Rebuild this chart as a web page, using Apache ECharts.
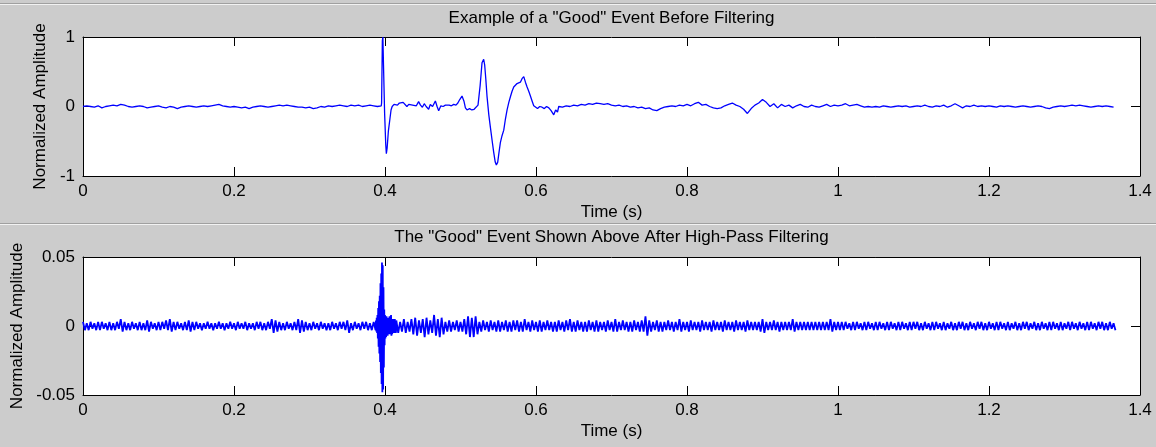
<!DOCTYPE html>
<html>
<head>
<meta charset="utf-8">
<title>Good event before / after high-pass</title>
<script src="https://cdn.jsdelivr.net/npm/echarts@6/dist/echarts.min.js"></script>
<style>
  html, body { margin: 0; padding: 0; background: #cccccc; }
  #myChart { width: 1156px; height: 447px; }
</style>
</head>
<body>
<div id="myChart"></div>
<script>
// tick values
var timeTicks = [0, 0.2, 0.4, 0.6, 0.8, 1, 1.2, 1.4]
var rawTicks = [-1, 0, 1]
var hpTicks = [-0.05, 0, 0.05]

// ---- top panel: raw (normalized) signal ----
// quiet part before the event, one reading every 5 ms from t = 0
var rawStep = 0.005
var rawPre = [
  0.00, 0.01, 0.00, -0.01, 0.01, -0.02, 0.00, 0.01, 0.02, 0.01,
  0.03, 0.02, 0.00, -0.01, 0.00, 0.01, 0.00, -0.02, -0.01, 0.00,
  0.01, -0.01, -0.02, 0.00, -0.01, -0.03, -0.01, 0.00, 0.01, 0.00,
  -0.01, 0.00, 0.01, 0.00, 0.01, 0.02, 0.03, 0.01, 0.00, -0.01,
  0.00, -0.01, -0.02, -0.01, -0.03, -0.01, 0.00, 0.01, 0.00, -0.01,
  0.00, 0.01, 0.02, 0.01, 0.02, 0.01, 0.00, -0.01, -0.01, -0.02,
  -0.01, -0.03, -0.02, 0.00, -0.01, 0.01, 0.00, 0.01, 0.02, 0.01,
  0.00, 0.02, 0.01, 0.02, 0.00, 0.01, 0.02, 0.01, 0.00, 0.01
]
// the event itself (irregular readings)
var rawEventT = [
  0.3955, 0.3965, 0.3972, 0.3980, 0.3995, 0.4010, 0.4018, 0.4028, 0.4045, 0.4065,
  0.4080, 0.4095, 0.4120, 0.4140, 0.4165, 0.4190, 0.4215, 0.4240, 0.4265, 0.4290,
  0.4315, 0.4340, 0.4365, 0.4390, 0.4415, 0.4445, 0.4470, 0.4495, 0.4520, 0.4545,
  0.4578, 0.4600, 0.4630, 0.4667, 0.4690, 0.4711, 0.4740, 0.4770, 0.4800, 0.4821,
  0.4850, 0.4880, 0.4910, 0.4940, 0.4965, 0.4990, 0.5020, 0.5045, 0.5065, 0.5086,
  0.5120, 0.5150, 0.5180, 0.5197, 0.5232, 0.5260, 0.5285, 0.5307, 0.5320, 0.5335,
  0.5351, 0.5375, 0.5396, 0.5420, 0.5440, 0.5460, 0.5475, 0.5493, 0.5510, 0.5528,
  0.5550, 0.5573, 0.5595, 0.5617, 0.5640, 0.5661, 0.5683, 0.5705, 0.5727, 0.5749,
  0.5771, 0.5793, 0.5815, 0.5838, 0.5860, 0.5882, 0.5904, 0.5926, 0.5948, 0.5970,
  0.5995, 0.6020, 0.6050, 0.6080, 0.6110, 0.6140, 0.6170, 0.6200, 0.6235, 0.6260,
  0.6285, 0.6301, 0.6320
]
var rawEventV = [
  0.05, 0.95, 1.00, 0.60, -0.10, -0.55, -0.68, -0.60, -0.35, -0.18,
  -0.05, 0.00, 0.03, 0.05, 0.02, 0.05, 0.03, 0.06, 0.04, 0.00,
  0.03, 0.05, 0.02, 0.04, 0.01, 0.07, 0.02, -0.01, 0.04, 0.00,
  -0.04, 0.03, 0.00, 0.08, 0.00, -0.06, 0.01, 0.00, 0.02, 0.00,
  0.02, 0.01, 0.03, 0.02, 0.05, 0.10, 0.15, 0.08, -0.02, -0.05,
  -0.03, -0.05, -0.04, -0.02, 0.02, 0.30, 0.63, 0.68, 0.60, 0.40,
  0.15, -0.12, -0.30, -0.50, -0.66, -0.80, -0.84, -0.80, -0.66, -0.52,
  -0.42, -0.34, -0.18, -0.05, 0.06, 0.14, 0.22, 0.28, 0.30, 0.33,
  0.32, 0.35, 0.40, 0.43, 0.35, 0.28, 0.22, 0.15, 0.08, 0.01,
  0.00, -0.03, 0.00, -0.01, -0.03, 0.00, -0.02, -0.06, -0.12, -0.05,
  -0.08, 0.00, -0.02
]
// coda after the event, every 5 ms from t = 0.635
var rawPostStart = 0.635
var rawPost = [
  -0.01, 0.01, 0.00, 0.02, 0.01, 0.03, 0.02, 0.04, 0.03, 0.05,
  0.04, 0.03, 0.04, 0.02, 0.01, 0.02, 0.00, 0.01, -0.01, 0.00,
  -0.02, -0.01, -0.03, -0.02, -0.05, -0.06, -0.03, -0.01, 0.00, 0.01,
  0.00, 0.02, 0.01, 0.03, 0.01, 0.04, 0.06, 0.02, 0.03, 0.00,
  -0.02, -0.03, -0.02, 0.01, 0.03, 0.05, 0.02, 0.00, -0.04, -0.10,
  -0.03, 0.02, 0.05, 0.10, 0.06, 0.00, 0.04, -0.02, 0.03, 0.00,
  0.02, -0.02, 0.01, 0.03, 0.00, -0.01, 0.02, 0.00, -0.01, 0.01,
  0.03, 0.00, 0.02, 0.01, 0.02, 0.04, 0.01, 0.02, 0.03, 0.01,
  -0.01, 0.00, -0.01, 0.00, -0.01, 0.01, 0.00, -0.01, 0.00, 0.01,
  0.00, 0.01, -0.01, 0.00, 0.01, 0.00, 0.02, 0.00, -0.01, 0.01,
  0.00, 0.02, -0.01, 0.01, 0.04, 0.01, -0.02, 0.01, 0.00, 0.02,
  0.00, 0.01, 0.00, 0.01, 0.00, -0.01, 0.01, 0.00, 0.01, 0.00,
  -0.01, 0.00, 0.01, 0.00, -0.01, 0.00, 0.01, 0.00, -0.02, -0.03,
  -0.01, 0.00, 0.01, 0.00, 0.01, 0.02, 0.01, 0.02, 0.01, 0.00,
  -0.01, 0.00, 0.01, 0.00, 0.01, 0.00, -0.01
]

// ---- bottom panel: high-pass filtered signal (units of 0.001) ----
// the trace is very dense, so it is kept as the top / bottom edge of the
// band in 5 ms bins; each bin is drawn as one up-down swing
var hpStep = 0.005
var hpUpperA = [
  3, 2, 3, 2, 3, 3, 2, 3, 2, 3,
  5, 3, 2, 3, 2, 3, 2, 4, 3, 2,
  3, 3, 4, 5, 3, 3, 2, 3, 4, 3,
  3, 2, 2, 3, 2, 2, 3, 2, 2, 3,
  2, 3, 2, 3, 2, 2, 3, 3, 2, 3,
  5, 4, 3, 2, 3, 2, 3, 5, 4, 3,
  2, 3, 2, 3, 2, 2, 3, 2, 3, 3,
  4, 2, 3, 2, 3, 3, 2, 3
]
var hpLowerA = [
  3, 3, 2, 3, 3, 2, 3, 3, 3, 2,
  4, 3, 3, 2, 3, 3, 3, 4, 2, 3,
  3, 2, 3, 4, 3, 2, 3, 3, 4, 3,
  2, 3, 2, 2, 3, 2, 2, 3, 2, 2,
  3, 2, 2, 3, 2, 3, 2, 3, 3, 2,
  5, 4, 3, 3, 2, 3, 3, 5, 4, 3,
  3, 2, 3, 2, 3, 3, 2, 3, 2, 3,
  5, 3, 2, 3, 2, 3, 3, 3
]
// the burst around 0.4 s, read sample by sample
var hpBurstT = [
  0.3880, 0.3885, 0.3890, 0.3895, 0.3900, 0.3905, 0.3910, 0.3915, 0.3920, 0.3925,
  0.3930, 0.3935, 0.3940, 0.3945, 0.3950, 0.3955, 0.3960, 0.3965, 0.3970, 0.3975,
  0.3980, 0.3985, 0.3990, 0.3995, 0.4000, 0.4005, 0.4010, 0.4015, 0.4020, 0.4025,
  0.4030, 0.4035, 0.4040, 0.4045, 0.4050, 0.4055, 0.4060, 0.4065, 0.4070, 0.4075,
  0.4080, 0.4085, 0.4090, 0.4095, 0.4100, 0.4105, 0.4110, 0.4115, 0.4120, 0.4125,
  0.4130, 0.4135, 0.4140, 0.4145
]
var hpBurstV = [
  4, -4, 6, -5, 8, -9, 13, -15, 18, -20,
  22, -26, 31, -34, 38, -42, 46, -48, 44, -46,
  28, -30, 12, -14, 8, -9, 6, -8, 7, -6,
  5, -7, 6, -5, 4, -6, 7, -5, 5, -6,
  8, -7, 5, -6, 4, -5, 5, -4, 4, -5,
  5, -4, 4, -5
]
var hpStartB = 0.415
var hpUpperB = [
  4, 3, 5, 3, 5, 6, 4, 5, 6, 4,
  8, 5, 6, 3, 4, 3, 4, 3, 5, 7,
  6, 7, 3, 4, 3, 4, 3, 4, 3, 4,
  3, 4, 4, 3, 5, 3, 4, 3, 4, 3,
  4, 3, 3, 4, 3, 4, 5, 3, 4, 3,
  3, 4, 3, 4, 3, 3, 4, 3, 5, 3,
  4, 3, 3, 4, 3, 4, 7, 4, 3, 4,
  3, 3, 4, 3, 3, 5, 3, 3, 4, 3,
  3, 4, 3, 3, 4, 3, 3, 4, 3, 3,
  4, 3, 3, 4, 3, 3, 3, 5, 3, 3,
  4, 3, 3, 3, 3, 5, 3, 3, 3, 3,
  3, 3, 3, 3, 3, 5, 3, 3, 3, 3,
  2, 3, 3, 2, 3, 3, 2, 3, 3, 2,
  3, 3, 2, 3, 3, 2, 3, 3, 3, 2,
  3, 2, 3, 3, 2, 3, 2, 3, 2, 3,
  3, 2, 3, 2, 3, 3, 2, 3, 2, 3,
  3, 2, 3, 2, 3, 2, 3, 3, 2, 3,
  2, 3, 2, 3, 3, 2, 3, 2, 3, 3,
  2, 3, 2, 3, 3, 2, 3, 3, 2, 3, 2
]
var hpLowerB = [
  5, 4, 5, 4, 6, 7, 5, 8, 6, 5,
  7, 8, 6, 4, 4, 3, 4, 4, 6, 8,
  8, 6, 4, 3, 4, 3, 4, 4, 3, 4,
  4, 3, 4, 4, 3, 4, 3, 4, 4, 3,
  3, 4, 4, 3, 4, 3, 4, 4, 3, 4,
  4, 3, 4, 4, 3, 4, 3, 4, 4, 3,
  3, 4, 4, 3, 4, 4, 7, 4, 3, 4,
  4, 3, 3, 4, 3, 4, 3, 4, 3, 3,
  4, 3, 3, 4, 3, 3, 4, 3, 3, 4,
  3, 3, 4, 3, 3, 3, 4, 5, 3, 3,
  3, 4, 3, 3, 3, 4, 3, 3, 3, 3,
  3, 3, 3, 3, 3, 4, 3, 3, 3, 2,
  3, 3, 2, 3, 3, 2, 3, 3, 2, 3,
  3, 2, 3, 3, 2, 3, 3, 2, 3, 3,
  2, 3, 3, 2, 3, 3, 2, 3, 3, 2,
  3, 3, 2, 3, 2, 3, 3, 2, 3, 3,
  2, 3, 3, 2, 3, 3, 2, 3, 2, 3,
  3, 2, 3, 3, 2, 3, 3, 2, 3, 2,
  3, 2, 3, 3, 2, 3, 2, 3, 3, 2, 3
]

// build [t, value] pairs
var rawData = []
rawPre.forEach(function (v, i) { rawData.push([i * rawStep, v]) })
rawEventT.forEach(function (t, i) { rawData.push([t, rawEventV[i]]) })
rawPost.forEach(function (v, i) { rawData.push([rawPostStart + i * rawStep, v]) })

var hpData = []
function pushBins(start, upper, lower) {
  upper.forEach(function (u, i) {
    var t = start + i * hpStep
    hpData.push([t, u / 1000])
    hpData.push([t + hpStep / 2, -lower[i] / 1000])
  })
}
pushBins(0, hpUpperA, hpLowerA)
hpBurstT.forEach(function (t, i) { hpData.push([t, hpBurstV[i] / 1000]) })
pushBins(hpStartB, hpUpperB, hpLowerB)

var fontFamily = 'Liberation Sans, Arial, sans-serif'
var txt = { fontFamily: fontFamily, fontSize: 17, color: '#000' }
var grids = [
  { left: 83, right: 16, top: 37, height: 139 },
  { left: 83, right: 16, top: 257, height: 138 }
]

// one panel = bottom + top x axis, left + right y axis (MATLAB box with inward ticks)
function xAxes(gridIndex) {
  var common = {
    type: 'value', gridIndex: gridIndex,
    min: timeTicks[0], max: timeTicks[timeTicks.length - 1],
    interval: timeTicks[1] - timeTicks[0],
    splitLine: { show: false },
    axisLine: { show: true, onZero: false, lineStyle: { color: '#000', width: 1 } },
    axisTick: { show: true, inside: true, length: 9, lineStyle: { color: '#000' } }
  }
  return [
    Object.assign({}, common, {
      position: 'bottom',
      name: 'Time (s)', nameLocation: 'middle', nameGap: 28, nameTextStyle: txt,
      axisLabel: Object.assign({ margin: 7 }, txt)
    }),
    Object.assign({}, common, { position: 'top', axisLabel: { show: false } })
  ]
}
function yAxes(gridIndex, ticks) {
  var common = {
    type: 'value', gridIndex: gridIndex,
    min: ticks[0], max: ticks[ticks.length - 1], interval: ticks[1] - ticks[0],
    splitLine: { show: false },
    axisLine: { show: true, onZero: false, lineStyle: { color: '#000', width: 1 } },
    axisTick: { show: true, inside: true, length: 9, lineStyle: { color: '#000' } }
  }
  return [
    Object.assign({}, common, {
      position: 'left',
      name: 'Normalized Amplitude', nameLocation: 'middle', nameGap: 29, nameTextStyle: txt,
      axisLabel: Object.assign({ margin: 8 }, txt)
    }),
    Object.assign({}, common, { position: 'right', axisLabel: { show: false } })
  ]
}

var myChart = echarts.init(document.getElementById('myChart'), null, { renderer: 'canvas' })
var option = {
  animation: false,
  backgroundColor: '#cccccc',
  grid: grids.map(function (g) {
    return Object.assign({ show: true, backgroundColor: '#ffffff', borderWidth: 0 }, g)
  }),
  xAxis: xAxes(0).concat(xAxes(1)),
  yAxis: yAxes(0, rawTicks).concat(yAxes(1, hpTicks)),
  graphic: [
    // panel separators of the two stacked figures
    { type: 'rect', shape: { x: 0, y: 3, width: 1156, height: 1 }, style: { fill: '#a0a0a0' }, silent: true },
    { type: 'rect', shape: { x: 0, y: 4, width: 1156, height: 1 }, style: { fill: '#f2f2f2' }, silent: true },
    { type: 'rect', shape: { x: 0, y: 223, width: 1156, height: 1 }, style: { fill: '#a0a0a0' }, silent: true },
    { type: 'rect', shape: { x: 0, y: 224, width: 1156, height: 1 }, style: { fill: '#f2f2f2' }, silent: true },
    {
      type: 'text', x: 611.5, y: 18,
      style: { text: 'Example of a "Good" Event Before Filtering', align: 'center', verticalAlign: 'middle',
        fontFamily: fontFamily, fontSize: 17, fill: '#000' }
    },
    {
      type: 'text', x: 611.5, y: 237,
      style: { text: 'The "Good" Event Shown Above After High-Pass Filtering', align: 'center', verticalAlign: 'middle',
        fontFamily: fontFamily, fontSize: 17, fill: '#000' }
    }
  ],
  series: [
    {
      type: 'line', xAxisIndex: 0, yAxisIndex: 0,
      data: rawData, showSymbol: false, sampling: 'none',
      lineStyle: { color: '#0000ff', width: 1.3 }
    },
    {
      type: 'line', xAxisIndex: 2, yAxisIndex: 2,
      data: hpData, showSymbol: false, sampling: 'none',
      lineStyle: { color: '#0000ff', width: 1.8 }
    }
  ]
}
myChart.setOption(option)
</script>
</body>
</html>
